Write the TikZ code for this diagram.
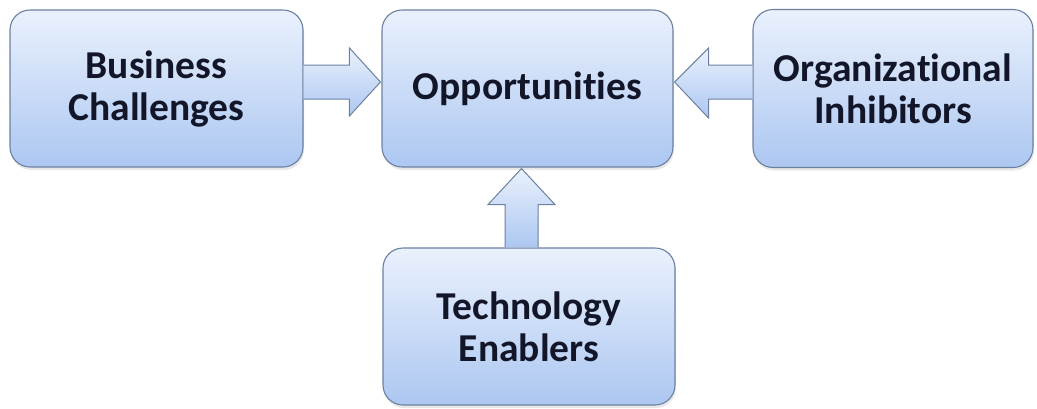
\documentclass[tikz,border=0pt]{standalone}
\usepackage{fontspec}
\setmainfont{Carlito}[Ligatures=NoCommon]
\usetikzlibrary{calc,shadows}
\definecolor{boxtop}{RGB}{234,241,253}
\definecolor{boxbot}{RGB}{172,199,241}
\definecolor{edgec}{RGB}{108,128,160}
\definecolor{txtc}{RGB}{18,22,40}
\begin{document}
\begin{tikzpicture}[x=1pt,y=-1pt,
  box/.style={draw=edgec, line width=1.1pt, rounded corners=20pt,
    top color=boxtop, bottom color=boxbot, inner sep=0pt, align=center,
    text=txtc, font=\fontsize{39.5}{42}\selectfont\bfseries,
    drop shadow={opacity=0.18, shadow xshift=1pt, shadow yshift=-3pt}},
  barrow/.style={draw=edgec, line width=1pt, line join=miter,
    top color=boxtop, bottom color=boxbot}]
\useasboundingbox (0,0) rectangle (1037,408);
% nodes
\node[box, minimum width=293pt, minimum height=157pt] (bc) at (156.5,88.5) {Business\\Challenges};
\node[box, minimum width=291pt, minimum height=157pt] (opp) at (527.5,88.5) {Opportunit\kern0pt ies};
\node[box, minimum width=280pt, minimum height=158pt] (org) at (893,88.5) {Organizat\kern0pt ional\\Inhibitors};
\node[box, minimum width=292pt, minimum height=157pt] (tech) at (529,326.5) {Technology\\Enablers};
% block arrows
\draw[barrow] ($(bc.east)+(0,-23.5)$) -- ($(opp.west)+(-32,-23.5)$) -- ($(opp.west)+(-32,-40.5)$)
  -- ($(opp.west)+(-1,-6.5)$) -- ($(opp.west)+(-32,27.5)$) -- ($(opp.west)+(-32,10.5)$)
  -- ($(bc.east)+(0,10.5)$);
\draw[barrow] ($(org.west)+(0,-23.5)$) -- ($(opp.east)+(35,-23.5)$) -- ($(opp.east)+(35,-40.5)$)
  -- ($(opp.east)+(1,-6.5)$) -- ($(opp.east)+(35,29.5)$) -- ($(opp.east)+(35,10.5)$)
  -- ($(org.west)+(0,10.5)$);
\coordinate (t3) at ($(opp.south)+(-6,1)$);
\draw[barrow] ($(t3 |- tech.north)+(-16.5,0)$) -- ($(t3)+(-16.5,36)$) -- ($(t3)+(-33.5,36)$)
  -- (t3) -- ($(t3)+(33.5,36)$) -- ($(t3)+(16.5,36)$) -- ($(t3 |- tech.north)+(16.5,0)$);
\end{tikzpicture}
\end{document}
